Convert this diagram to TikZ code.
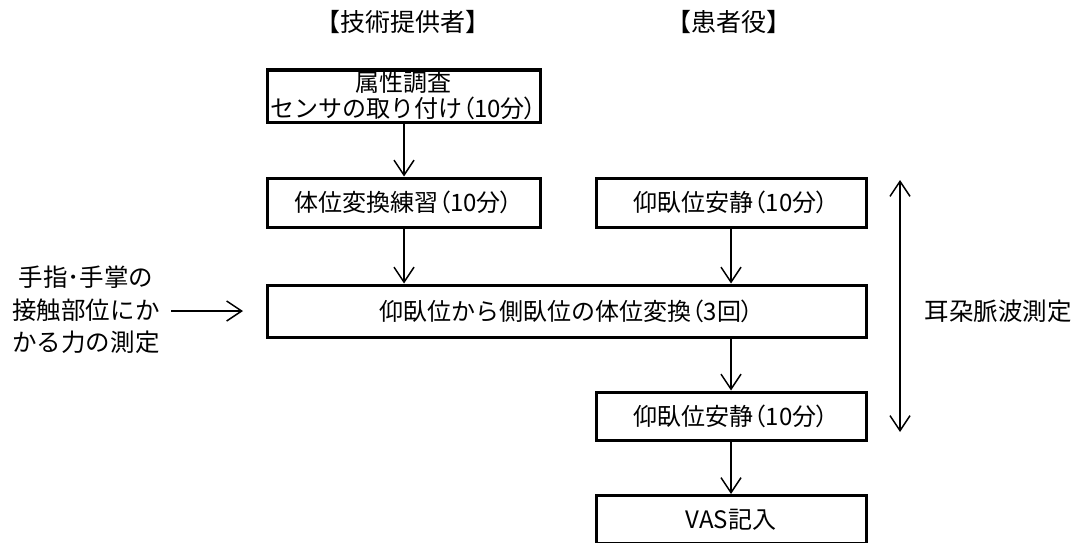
\documentclass[tikz,border=0pt]{standalone}
\usepackage{fontspec}
\setmainfont{Noto Sans CJK JP}
\newfontfamily\pfont[RawFeature=+palt]{Noto Sans CJK JP}
\newcommand\lpar{{\pfont （}}
\newcommand\rpar{{\pfont ）}}
\usetikzlibrary{arrows.meta}
\begin{document}
\begin{tikzpicture}[x=1pt,y=-1pt,
  box/.style={draw,line width=3pt,minimum width=273pt,minimum height=50pt,inner sep=0pt,align=center,font=\fontsize{24}{26}\selectfont},
  flow/.style={line width=1.5pt,-{Straight Barb[length=15pt,width=20pt,line width=1.5pt]}},
  lbl/.style={font=\fontsize{24.5}{32.5}\selectfont,align=center},
  head/.style={font=\fontsize{25}{28}\selectfont}]
\useasboundingbox (0,0) rectangle (1081,543);
\node[head] (h1) at (403,22) {【技術提供者】};
\node[head] (h2) at (729,22) {【患者役】};
\node[box,minimum height=52pt] (a) at (403.5,96) {属性調査\\センサの取り付け\lpar 10分\rpar};
\node[box,minimum height=49pt] (b) at (403.5,202.5) {体位変換練習\lpar 10分\rpar};
\node[box,minimum height=49pt,minimum width=270pt] (c) at (731,202.5) {仰臥位安静\lpar 10分\rpar};
\node[box,minimum height=52pt,minimum width=599pt] (d) at (566.5,311) {仰臥位から側臥位の体位変換\lpar 3回\rpar};
\node[box,minimum height=48pt,minimum width=270pt] (e) at (731,416) {仰臥位安静\lpar 10分\rpar};
\node[box,minimum height=48pt,minimum width=270pt] (f) at (731,519.5) {VAS記入};
\node[lbl] (l) at (86,310) {手指･手掌の\\接触部位にか\\かる力の測定};
\node[lbl] (r) at (998,311) {耳朶脈波測定};
\coordinate (t1) at (900,180);
\coordinate (t2) at (900,432);
\coordinate (ls) at (171,311);
\draw[flow] (a.south -| 404,0) -- (b.north -| 404,0);
\draw[flow] (b.south -| 404,0) -- (d.north -| 404,0);
\draw[flow] (c) -- (c |- d.north);
\draw[flow] (d.south -| e) -- (e);
\draw[flow] (e) -- (f);
\draw[flow] (ls) -- (d.west -| 243,0);
\draw[line width=1.5pt,{Straight Barb[length=15pt,width=20pt,line width=1.5pt]}-{Straight Barb[length=15pt,width=20pt,line width=1.5pt]}] (t1) -- (t2);
\end{tikzpicture}
\end{document}
